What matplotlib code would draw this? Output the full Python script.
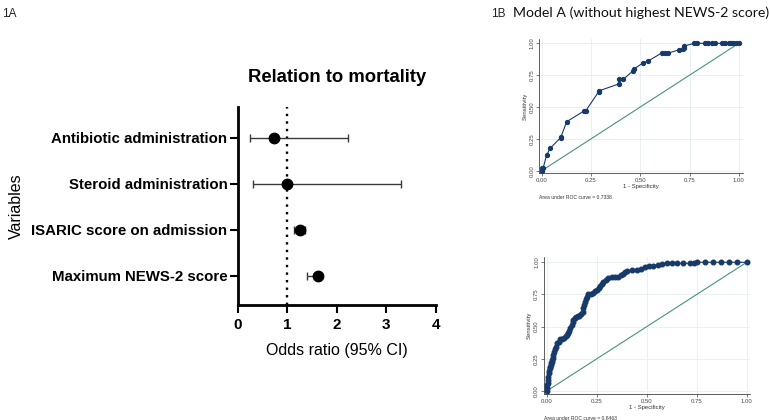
import matplotlib
matplotlib.use("Agg")
import matplotlib.pyplot as plt

# ---------------- data ----------------
variables = ["Antibiotic administration", "Steroid administration",
             "ISARIC score on admission", "Maximum NEWS-2 score"]
odds_ratio = [0.73, 1.00, 1.25, 1.62]
ci_low = [0.24, 0.30, 1.13, 1.39]
ci_high = [2.22, 3.29, 1.36, 1.66]
or_ticks = [0, 1, 2, 3, 4]

roc_ticks = [0.00, 0.25, 0.50, 0.75, 1.00]
roc_tick_labels = ["0.00", "0.25", "0.50", "0.75", "1.00"]

rocA_fpr = [0.000, 0.003, 0.008, 0.025, 0.044, 0.096, 0.098, 0.127, 0.215, 0.223,
            0.289, 0.293, 0.391, 0.394, 0.413, 0.465, 0.468, 0.516, 0.540, 0.609,
            0.626, 0.643, 0.699, 0.716, 0.720, 0.722, 0.775, 0.787, 0.829, 0.846,
            0.863, 0.880, 0.914, 0.931, 0.948, 0.960, 0.972, 0.984, 1.000]
rocA_tpr = [0.000, 0.018, 0.024, 0.123, 0.178, 0.259, 0.267, 0.385, 0.469, 0.469,
            0.620, 0.628, 0.681, 0.717, 0.717, 0.785, 0.798, 0.848, 0.861, 0.924,
            0.924, 0.924, 0.950, 0.953, 0.965, 0.979, 1.000, 1.000, 1.000, 1.000,
            1.000, 1.000, 1.000, 1.000, 1.000, 1.000, 1.000, 1.000, 1.000]
aucA = "Area under ROC curve = 0.7338"

rocB_fpr = [0.000, 0.002, 0.003, 0.005, 0.006, 0.008, 0.010, 0.012, 0.015, 0.017,
            0.020, 0.022, 0.025, 0.027, 0.030, 0.033, 0.038, 0.043, 0.048, 0.053,
            0.060, 0.067, 0.077, 0.087, 0.095, 0.103, 0.108, 0.113, 0.118, 0.125,
            0.130, 0.133, 0.140, 0.147, 0.155, 0.163, 0.172, 0.180, 0.183, 0.187,
            0.192, 0.197, 0.202, 0.208, 0.220, 0.233, 0.243, 0.253, 0.260, 0.267,
            0.275, 0.283, 0.295, 0.308, 0.325, 0.342, 0.358, 0.370, 0.383, 0.393,
            0.403, 0.425, 0.450, 0.470, 0.492, 0.512, 0.533, 0.555, 0.575, 0.600,
            0.625, 0.650, 0.683, 0.717, 0.735, 0.750, 0.790, 0.830, 0.870, 0.910,
            0.950, 1.000]
rocB_tpr = [0.000, 0.025, 0.047, 0.065, 0.085, 0.110, 0.137, 0.158, 0.176, 0.190,
            0.202, 0.215, 0.228, 0.241, 0.254, 0.280, 0.306, 0.325, 0.345, 0.370,
            0.383, 0.402, 0.408, 0.415, 0.425, 0.435, 0.452, 0.469, 0.490, 0.513,
            0.533, 0.552, 0.565, 0.578, 0.580, 0.583, 0.600, 0.617, 0.642, 0.668,
            0.690, 0.712, 0.732, 0.751, 0.756, 0.764, 0.775, 0.785, 0.800, 0.819,
            0.835, 0.850, 0.866, 0.881, 0.884, 0.886, 0.889, 0.898, 0.907, 0.921,
            0.935, 0.938, 0.940, 0.950, 0.961, 0.968, 0.974, 0.982, 0.990, 0.991,
            0.992, 0.992, 0.992, 0.992, 0.996, 1.000, 1.000, 1.000, 1.000, 1.000,
            1.000, 1.000]
aucB = "Area under ROC curve = 0.8463"

# ---------------- figure ----------------
fig = plt.figure(figsize=(7.7, 4.2), dpi=100)
fig.patch.set_facecolor("white")

fig.text(0.003, 0.982, "1A", fontsize=8.5, family="Liberation Sans", va="top", ha="left", color="#222222")
fig.text(0.638, 0.982, "1B", fontsize=8.5, family="Liberation Sans", va="top", ha="left", color="#222222")

# ---- forest plot ----
ax = fig.add_axes([0.3087, 0.2738, 0.2575, 0.4714])
ypos = list(range(len(variables), 0, -1))
xerr_lo = [o - l for o, l in zip(odds_ratio, ci_low)]
xerr_hi = [h - o for o, h in zip(odds_ratio, ci_high)]
ax.errorbar(odds_ratio, ypos, xerr=[xerr_lo, xerr_hi], fmt="none",
            ecolor="#3a3a3a", elinewidth=1.0, capsize=3.2, capthick=1.0, zorder=2)
ax.plot(odds_ratio, ypos, "o", color="black", markersize=7.5, zorder=3)
ax.axvline(1, color="black", linestyle=(0, (1, 2.2)), linewidth=1.7, zorder=1)
ax.set_xlim(0, 4)
ax.set_ylim(0.37, 4.67)
ax.set_xticks(or_ticks)
ax.set_xticklabels([str(t) for t in or_ticks], fontsize=11, fontweight="bold", family="Liberation Sans")
ax.set_yticks(ypos)
ax.set_yticklabels(variables, fontsize=10.8, fontweight="bold", family="Liberation Sans")
for s in ["top", "right"]:
    ax.spines[s].set_visible(False)
for s in ["left", "bottom"]:
    ax.spines[s].set_linewidth(2)
ax.tick_params(axis="both", direction="out", length=6, width=1.5, pad=1.5)
ax.tick_params(axis="x", pad=3)
ax.set_xlabel("Odds ratio (95% CI)", fontsize=11.5, family="Liberation Sans", labelpad=8)
ax.set_ylabel("Variables", fontsize=11.5, family="Liberation Sans")
ax.yaxis.set_label_coords(-1.078, 0.5)
ax.set_title("Relation to mortality", fontsize=13.3, fontweight="bold", family="Liberation Sans", pad=18)

# ---- ROC plots ----
navy = "#173a6a"
teal = "#4a9080"
gridc = "#e4eef0"

def roc_panel(rect, fpr, tpr, auc, xlim, ylim, msize, title=None):
    a = fig.add_axes(rect)
    a.set_xlim(*xlim)
    a.set_ylim(*ylim)
    a.set_xticks(roc_ticks)
    a.set_yticks(roc_ticks)
    a.grid(True, color=gridc, linewidth=0.6)
    a.set_axisbelow(True)
    a.plot([0, 1], [0, 1], color=teal, linewidth=0.8, zorder=2)
    a.plot(fpr, tpr, "-o", color=navy, linewidth=0.8, markersize=msize, zorder=3)
    a.set_xticklabels(roc_tick_labels, fontsize=4.3, family="Liberation Sans", color="#333333")
    a.set_yticklabels(roc_tick_labels, fontsize=4.3, family="Liberation Sans", color="#333333",
                      rotation=90, va="center")
    for s in ["top", "right"]:
        a.spines[s].set_visible(False)
    for s in ["left", "bottom"]:
        a.spines[s].set_linewidth(0.6)
        a.spines[s].set_color("#444444")
    a.tick_params(axis="both", direction="out", length=2, width=0.5, pad=1.5, colors="#444444")
    a.set_xlabel("1 - Specificity", fontsize=4.3, family="Liberation Sans", labelpad=0.5, color="#333333")
    a.set_ylabel("Sensitivity", fontsize=4.3, family="Liberation Sans", labelpad=1.5, color="#333333")
    a.text(0.0, -0.16, auc, transform=a.transAxes, fontsize=3.6, family="Liberation Sans",
           color="#333333", ha="left", va="top")
    if title:
        a.set_title(title, fontsize=10.2, family="Lato", pad=16, color="#111111")
    return a

roc_panel([0.7004, 0.5874, 0.2650, 0.3198], rocA_fpr, rocA_tpr, aucA,
          (-0.012, 1.023), (-0.02, 1.034), 2.8, title="Model A (without highest NEWS-2 score)")
roc_panel([0.7065, 0.0619, 0.2675, 0.3262], rocB_fpr, rocB_tpr, aucB,
          (-0.0135, 1.0165), (-0.023, 1.041), 3.3)

fig.savefig("out.png", dpi=100, facecolor="white")
